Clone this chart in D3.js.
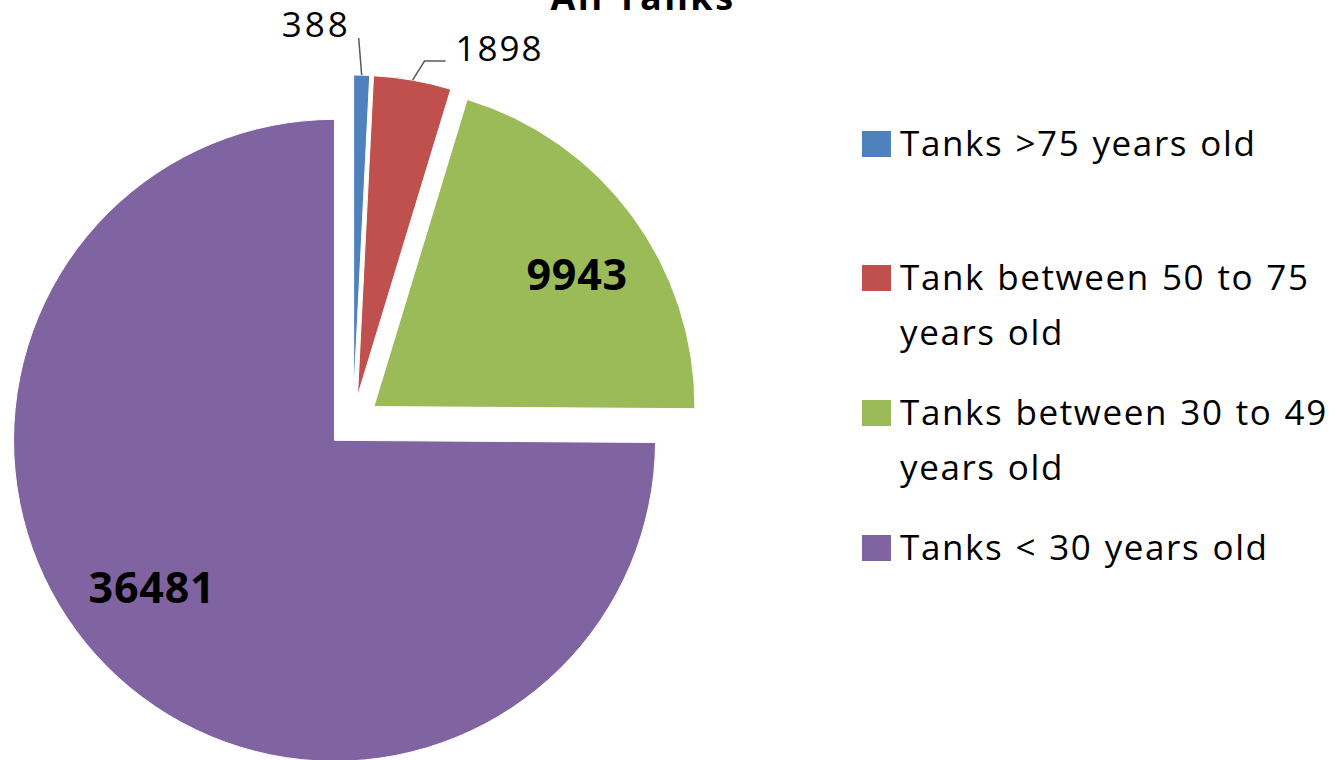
<!DOCTYPE html>
<html>
<head>
<meta charset="utf-8">
<script src="https://cdn.jsdelivr.net/npm/d3@7"></script>
<style>
  body { margin: 0; background: #fff; }
  svg { display: block; font-family: "Open Sans", sans-serif; }
</style>
</head>
<body>
<div id="chart"></div>
<script>
// data
var categories = ["Tanks >75 years old", "Tank between 50 to 75 years old",
                  "Tanks between 30 to 49 years old", "Tanks < 30 years old"];
var legendLines = [["Tanks >75 years old"], ["Tank between 50 to 75", "years old"],
                   ["Tanks between 30 to 49", "years old"], ["Tanks < 30 years old"]];
var values = [388, 1898, 9943, 36481];
var colors = ["#4F81BD", "#C0504D", "#9BBB59", "#8064A2"];
var title = "All Tanks";

// sizes
var W = 1340, H = 760;
var cx = 353, cy = 422, radius = 321, explode = 26;

var svg = d3.select('#chart').append('svg')
    .attr('width', W)
    .attr('height', H);

// title (cut at the top like the original)
svg.append('text')
    .attr('x', 643)
    .attr('y', 10)
    .attr('text-anchor', 'middle')
    .attr('font-weight', 'bold')
    .attr('font-size', 36)
    .attr('letter-spacing', 2.5)
    .text(title);

var pie = d3.pie().sort(null).value(function (d) { return d; });
var arcs = pie(values);

var arc = d3.arc().innerRadius(0).outerRadius(radius);

// offset of each exploded slice
function shift(d) {
    var a = (d.startAngle + d.endAngle) / 2;
    return [cx + explode * Math.sin(a), cy - explode * Math.cos(a)];
}

var g = svg.append('g');

var slices = g.selectAll('g.slice')
    .data(arcs)
    .enter().append('g')
        .attr('class', 'slice')
        .attr('transform', function (d) { var p = shift(d); return 'translate(' + p[0] + ',' + p[1] + ')'; });

slices.append('path')
    .attr('d', arc)
    .attr('fill', function (d, i) { return colors[i]; })
    .attr('stroke', '#fff')
    .attr('stroke-width', 1);

// labels inside the big slices (nudged a bit like excel does)
var labelArc = d3.arc().innerRadius(radius * 0.74).outerRadius(radius * 0.74);
var nudge = { 2: [12, 9], 3: [-14, -20] };
slices.filter(function (d) { return d.value > 5000; })
    .append('text')
    .attr('x', function (d) { return labelArc.centroid(d)[0] + nudge[d.index][0]; })
    .attr('y', function (d) { return labelArc.centroid(d)[1] + nudge[d.index][1]; })
    .attr('dy', '0.36em')
    .attr('text-anchor', 'middle')
    .attr('font-weight', 'bold')
    .attr('font-size', 43)
    .attr('letter-spacing', 0.8)
    .attr('fill', '#000')
    .text(function (d) { return d.value; });

// labels outside the small slices, with leader lines
var leaders = { 0: { ext: 37, run: 0, gap: -8 }, 1: { ext: 21, run: 21, gap: 10 } };
slices.filter(function (d) { return d.value < 5000; })
    .each(function (d) {
        var sel = d3.select(this);
        var L = leaders[d.index];
        var a = (d.startAngle + d.endAngle) / 2;
        var p0 = [radius * Math.sin(a), -radius * Math.cos(a)];
        var p1 = d.index === 0 ? [p0[0] - 3, p0[1] - L.ext]
                               : [(radius + L.ext) * Math.sin(a + 0.025), -(radius + L.ext) * Math.cos(a + 0.025)];
        var p2 = [p1[0] + L.run, p1[1]];
        sel.append('path')
            .attr('d', d3.line()([p0, p1, p2]))
            .attr('fill', 'none')
            .attr('stroke', '#595959')
            .attr('stroke-width', 1.5);
        sel.append('text')
            .attr('x', p2[0] + L.gap)
            .attr('y', p2[1] - (d.index === 0 ? 1 : 0))
            .attr('text-anchor', d.index === 0 ? 'end' : 'start')
            .attr('font-size', 35)
            .attr('letter-spacing', d.index === 0 ? 3 : 2)
            .attr('fill', '#000')
            .text(d.value);
    });

// legend
var legend = svg.append('g')
    .attr('transform', 'translate(862,0)');

var rowY = [156, 290, 425, 560];
var items = legend.selectAll('g.item')
    .data(categories)
    .enter().append('g')
        .attr('class', 'item')
        .attr('transform', function (d, i) { return 'translate(0,' + rowY[i] + ')'; });

items.append('rect')
    .attr('x', 0)
    .attr('y', -25)
    .attr('width', 29)
    .attr('height', 26)
    .attr('fill', function (d, i) { return colors[i]; });

items.append('text')
    .attr('x', 38)
    .attr('font-size', 35)
    .attr('letter-spacing', 1.6)
    .attr('word-spacing', 1.5)
    .attr('fill', '#000')
    .selectAll('tspan')
    .data(function (d, i) { return legendLines[i]; })
    .enter().append('tspan')
        .attr('x', 38)
        .attr('dy', function (d, j) { return j === 0 ? 0 : 55; })
        .text(function (d) { return d; });
</script>
</body>
</html>
